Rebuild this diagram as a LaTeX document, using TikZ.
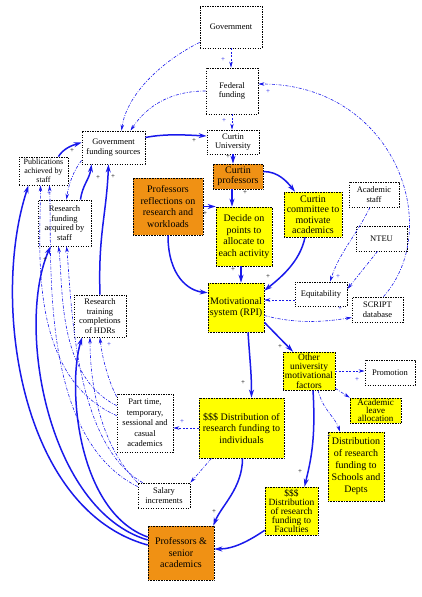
\documentclass[tikz,border=0pt]{standalone}
\usepackage{fontspec}
\setmainfont{Liberation Serif}
\usetikzlibrary{arrows.meta}
\definecolor{orng}{RGB}{240,145,20}
\definecolor{yel}{RGB}{255,255,0}
\definecolor{lnk}{RGB}{25,25,235}
\begin{document}
\begin{tikzpicture}[x=1pt,y=-1pt,
  wbox/.style={draw=black, dash pattern=on 1.4pt off 1.1pt, line width=0.8pt, fill=white, inner sep=1pt, align=center, font=\fontsize{8.5}{9.5}\selectfont},
  ybox/.style={draw=black, densely dotted, line width=0.6pt, fill=yel, inner sep=1pt, align=center, font=\fontsize{10}{11.5}\selectfont},
  obox/.style={ybox, fill=orng},
  lk/.style={draw=lnk, line width=1.5pt, -{Stealth[length=8pt,width=5pt]}},
  tl/.style={draw=lnk, line width=0.6pt, dash pattern=on 3pt off 1.5pt on 0.8pt off 1.5pt, -{Stealth[length=6pt,width=3.5pt]}},
  dl/.style={tl, dash pattern=on 2pt off 1.5pt},
  plb/.style={font=\fontsize{7}{7}\selectfont, inner sep=0pt, text=lnk},
  plk/.style={font=\fontsize{7}{7}\selectfont, inner sep=0pt, text=black}]
\useasboundingbox (0,0) rectangle (422,597);
% white boxes
\node[wbox, minimum width=62pt, minimum height=42pt] (gov) at (231,27) {Government};
\node[wbox, minimum width=52pt, minimum height=46pt] (fed) at (232,91) {Federal\\funding};
\node[wbox, minimum width=52pt, minimum height=24pt] (cu) at (233,142) {Curtin\\University};
\node[wbox, minimum width=63pt, minimum height=33pt] (gfs) at (113.5,147.5) {Government\\funding sources};
\node[wbox, minimum width=49pt, minimum height=28pt, font=\fontsize{8}{9}\selectfont] (pub) at (43.5,171) {Publications\\achieved by\\staff};
\node[wbox, minimum width=53pt, minimum height=46pt] (rfa) at (64.5,223) {Research\\funding\\acquired by\\staff};
\node[wbox, minimum width=52pt, minimum height=42pt] (rtc) at (100,316) {Research\\training\\completions\\of HDRs};
\node[wbox, minimum width=56pt, minimum height=58pt, font=\fontsize{8.5}{10.5}\selectfont] (ptc) at (145,423) {Part time,\\temporary,\\sessional and\\casual\\academics};
\node[wbox, minimum width=52pt, minimum height=25pt] (sal) at (164,495.5) {Salary\\increments};
\node[wbox, minimum width=50pt, minimum height=25pt] (acs) at (374,194.5) {Academic\\staff};
\node[wbox, minimum width=51pt, minimum height=25pt] (nteu) at (381.5,238.5) {NTEU};
\node[wbox, minimum width=52pt, minimum height=24pt] (equ) at (321,294) {Equitability};
\node[wbox, minimum width=51pt, minimum height=25pt] (scr) at (377.5,309.5) {SCRIPT\\database};
\node[wbox, minimum width=50pt, minimum height=25pt] (pro) at (390,372.5) {Promotion};
% coloured boxes
\node[obox, minimum width=70pt, minimum height=57pt] (refl) at (168,206.5) {Professors\\reflections on\\research and\\workloads};
\node[obox, minimum width=50pt, minimum height=25pt, font=\fontsize{10}{10.5}\selectfont] (cp) at (238,176.5) {Curtin\\professors};
\node[ybox, minimum width=56pt, minimum height=59pt] (dec) at (244,236.5) {Decide on\\points to\\allocate to\\each activity};
\node[ybox, minimum width=58pt, minimum height=45pt, font=\fontsize{10}{10.5}\selectfont] (com) at (313,214.5) {Curtin\\committee to\\motivate\\academics};
\node[ybox, minimum width=56pt, minimum height=49pt] (mot) at (236,307.5) {Motivational\\system (RPI)};
\node[ybox, minimum width=52pt, minimum height=38pt, font=\fontsize{9.5}{9.3}\selectfont] (ouf) at (309,371) {Other\\university\\motivational\\factors};
\node[ybox, minimum width=51pt, minimum height=25pt, font=\fontsize{9}{8.4}\selectfont] (alv) at (375.5,410.5) {Academic\\leave\\allocation};
\node[ybox, minimum width=56pt, minimum height=69pt, font=\fontsize{10}{12}\selectfont] (dsd) at (356,466.5) {Distribution\\of research\\funding to\\Schools and\\Depts};
\node[ybox, minimum width=85pt, minimum height=60pt] (ind) at (241.5,428) {\$\$\$ Distribution of\\research funding to\\individuals};
\node[ybox, minimum width=53pt, minimum height=48pt, font=\fontsize{9.5}{9}\selectfont] (fac) at (291.5,511) {\$\$\$\\Distribution\\of research\\funding to\\Faculties};
\node[obox, minimum width=66pt, minimum height=54pt] (psa) at (181,553) {Professors \&\\senior\\academics};
% thick links
\draw[lk] ([yshift=10pt]gfs.east) .. controls +(20,-4) and +(-20,-1) .. ([yshift=6pt]cu.west);
\draw[lk] (cu.south) -- (cu.south |- cp.north);
\draw[lk] ([xshift=-6pt]cp.south) -- ([xshift=-6pt]cp.south |- dec.north);
\draw[lk] ([yshift=5pt]cp.east) .. controls +(15,0) and +(-8,-10) .. ([xshift=-18pt]com.north);
\draw[lk] ([xshift=-3pt]dec.south) -- ([xshift=-3pt]dec.south |- mot.north);
\draw[lk] ([xshift=-8pt]com.south) .. controls +(-5,25) and +(15,-12) .. ([yshift=-8pt]mot.north east);
\draw[lk] (refl.south) .. controls +(0,40) and +(-20,-2) .. ([yshift=-10pt]mot.north west);
\draw[lk] (refl.east) -- (refl.east -| dec.west);
\draw[lk] ([yshift=10pt]mot.south east) -- ([xshift=-16pt]ouf.north);
\draw[lk] ([xshift=12pt]mot.south) .. controls +(2,30) and +(0,-25) .. ([xshift=10pt]ind.north);
\draw[lk] ([xshift=4pt]ouf.south) .. controls +(3,50) and +(6,-25) .. ([xshift=13pt]fac.north);
\draw[lk] ([yshift=5pt]fac.south west) .. controls +(-15,10) and +(20,0) .. ([yshift=4pt]psa.east);
\draw[lk] ([xshift=1pt]ind.south) .. controls +(0,30) and +(8,-20) .. ([xshift=-1pt]psa.north east);
\draw[lk] ([yshift=8pt]psa.west) .. controls +(-128,-35) and +(-38,115) .. ([xshift=-15pt]pub.south);
\draw[lk] ([yshift=13pt]psa.west) .. controls +(-100,-30) and +(-35,80) .. ([xshift=-14pt]rfa.south);
\draw[lk] ([yshift=16pt]psa.west) .. controls +(-70,-25) and +(-15,50) .. ([xshift=-18pt]rtc.south);
\draw[lk] ([xshift=-10pt]pub.north east) .. controls +(5,-8) and +(-10,3) .. ([yshift=5pt]gfs.west);
\draw[lk] ([xshift=16pt]rfa.north) .. controls +(2,-15) and +(-2,15) .. ([xshift=-22pt]gfs.south);
\draw[lk] (rtc.north) .. controls +(-2,-60) and +(-2,50) .. ([xshift=-5pt]gfs.south);
% thin links
\draw[dl] (gov.south) -- (gov.south |- fed.north);
\draw[dl] (fed.south) -- (fed.south |- cu.north);
\draw[tl] ([yshift=6pt]gov.south west) .. controls +(-40,20) and +(5,-35) .. ([xshift=8pt]gfs.north);
\draw[tl] (fed.west) .. controls +(-45,0) and +(10,-15) .. ([xshift=17pt]gfs.north);
\draw[tl] ([xshift=6pt]scr.north) .. controls +(62,-70) and +(135,0) .. ([yshift=7pt]fed.east);
\draw[dl] ([yshift=-6pt]equ.west) -- ([yshift=-6pt]equ.west -| mot.east);
\draw[tl] ([yshift=-8pt]mot.east) .. controls +(30,8) and +(-30,5) .. ([yshift=-8pt]scr.west);
\draw[tl] ([xshift=-4pt]acs.south) .. controls +(-15,30) and +(10,-30) .. ([xshift=9pt]equ.north);
\draw[tl] ([xshift=-4pt]nteu.south) -- ([yshift=5pt]equ.east);
\draw[dl] (ouf.east) -- (ouf.east -| pro.west);
\draw[tl] ([yshift=2pt]ouf.south east) -- (alv.north west);
\draw[tl] ([xshift=9pt]ouf.south) .. controls +(5,20) and +(-5,-15) .. ([xshift=-16pt]dsd.north);
\draw[dl] (ind.west) -- (ind.west -| ptc.east);
\draw[tl] ([xshift=-30pt]ind.south) -- (sal.north east);
\draw[tl] ([yshift=-3pt]ptc.north west) .. controls +(-8,-15) and +(2,20) .. (rtc.south);
\draw[tl] (sal.north west) .. controls +(-40,-40) and +(0,40) .. ([xshift=-10pt]rtc.south);
\draw[tl] ([yshift=-12pt]ptc.north west) .. controls +(-60,-30) and +(5,40) .. ([xshift=-6pt]rfa.south);
\draw[tl] ([yshift=-22pt]ptc.north west) .. controls +(-90,-40) and +(0,60) .. ([xshift=-3pt]pub.south);
\draw[tl] ([xshift=5pt]sal.north west) .. controls +(-70,-40) and +(5,50) .. ([xshift=2pt]rfa.south);
\draw[tl] ([yshift=-4pt]sal.north west) .. controls +(-100,-50) and +(3,70) .. ([xshift=6pt]pub.south);
\draw[tl] ([yshift=4pt]gfs.south west) .. controls +(-8,10) and +(2,-15) .. ([xshift=2pt]rfa.north);
% plus signs
\node[plb] (p1) at (223,60) {+};
\node[plb] (p2) at (224,121) {+};
\node[plb] (p3) at (268,92) {+};
\node[plk] (p4) at (194,141) {+};
\node[plk] (p5) at (228,157) {+};
\node[plk] (p6) at (245,193) {+};
\node[plk] (p7) at (233,270) {+};
\node[plk] (p8) at (268,277) {+};
\node[plk] (p9) at (205,214) {+};
\node[plb] (p10) at (338,277) {+};
\node[plb] (p11) at (340,309) {+};
\node[plk] (p12) at (280,347) {+};
\node[plk] (p13) at (243,383) {+};
\node[plb] (p14) at (357,380) {+};
\node[plb] (p15) at (329,437) {+};
\node[plk] (p16) at (300,472) {+};
\node[plk] (p17) at (214,512) {+};
\node[plb] (p18) at (182,422) {+};
\node[plk] (p19) at (98,178) {+};
\node[plk] (p20) at (113,177) {+};
\node[plk] (p21) at (72,151) {+};
\node[plb] (p22) at (49,194) {+};
\node[plb] (p23) at (109,345) {+};
\node[plk] (p24) at (45,260) {+};
\end{tikzpicture}
\end{document}
